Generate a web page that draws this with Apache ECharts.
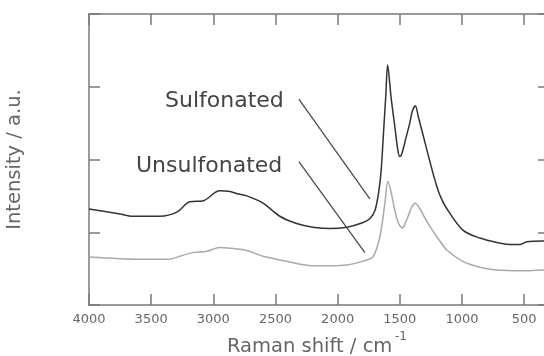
<!DOCTYPE html>
<html>
<head>
<meta charset="utf-8">
<script src="https://cdn.jsdelivr.net/npm/echarts@6/dist/echarts.min.js"></script>
<style>
  html, body { margin: 0; padding: 0; background: #fff; }
  #chart { width: 544px; height: 356px; }
</style>
</head>
<body>
<div id="chart"></div>
<script>
// x tick labels (Raman shift, cm-1)
var xTicks = [4000, 3500, 3000, 2500, 2000, 1500, 1000, 500]

// Sulfonated spectrum [wavenumber, intensity]
var sulfonated = [
  [4000, 1.32], [3750, 1.25], [3650, 1.22], [3430, 1.22], [3290, 1.28],
  [3190, 1.42], [3085, 1.43], [2950, 1.57], [2865, 1.56], [2810, 1.53],
  [2730, 1.50], [2600, 1.40], [2465, 1.22], [2330, 1.12], [2200, 1.07],
  [2060, 1.05], [1925, 1.07], [1800, 1.13], [1740, 1.19], [1700, 1.30],
  [1670, 1.55], [1650, 1.85], [1630, 2.40], [1612, 2.90], [1598, 3.30],
  [1570, 2.85], [1540, 2.45], [1515, 2.12], [1499, 2.04], [1480, 2.10],
  [1450, 2.30], [1420, 2.50], [1400, 2.66], [1375, 2.74], [1350, 2.58],
  [1300, 2.25], [1250, 1.92], [1218, 1.72], [1178, 1.51], [1124, 1.33],
  [993, 1.03], [856, 0.92], [720, 0.86], [590, 0.83], [535, 0.83],
  [478, 0.87], [350, 0.88], [300, 0.88]
]

// Unsulfonated spectrum [wavenumber, intensity]
var unsulfonated = [
  [4000, 0.66], [3590, 0.63], [3350, 0.63], [3270, 0.67], [3165, 0.72],
  [3050, 0.74], [2950, 0.79], [2865, 0.78], [2810, 0.77], [2730, 0.75],
  [2600, 0.67], [2465, 0.62], [2330, 0.57], [2200, 0.54], [2060, 0.54],
  [1925, 0.55], [1800, 0.60], [1717, 0.66], [1660, 0.94], [1620, 1.40],
  [1596, 1.70], [1570, 1.55], [1540, 1.30], [1510, 1.12], [1479, 1.06],
  [1450, 1.15], [1420, 1.28], [1400, 1.36], [1376, 1.40], [1340, 1.33],
  [1300, 1.20], [1258, 1.08], [1178, 0.88], [1124, 0.76], [993, 0.60],
  [856, 0.52], [720, 0.48], [510, 0.47], [350, 0.48], [300, 0.48]
]

// leader lines from the labels to the curves
var sulfLine = [[2312, 2.83], [1741, 1.46]]
var unsulfLine = [[2312, 1.97], [1781, 0.72]]

var frame = '#7a7a7a'
var labelColor = '#666'

var chart = echarts.init(document.getElementById('chart'))

function xAxisOpt (pos, labelColorVal) {
  return {
    type: 'value',
    position: pos,
    inverse: true,
    min: 300,
    max: 4000,
    splitLine: { show: false },
    axisLine: { show: true, onZero: false, lineStyle: { color: frame, width: 1.5 } },
    axisTick: { show: true, inside: true, length: 11, customValues: xTicks, lineStyle: { color: frame, width: 1.5 } },
    axisLabel: {
      show: true, customValues: xTicks, margin: 8,
      color: labelColorVal, fontSize: 13, fontFamily: 'DejaVu Sans',
      formatter: function (v) { return String(v) }
    }
  }
}

function yAxisOpt (pos) {
  return {
    type: 'value',
    position: pos,
    min: 0,
    max: 4,
    interval: 1,
    splitLine: { show: false },
    axisLine: { show: true, onZero: false, lineStyle: { color: frame, width: 1.5 } },
    axisTick: { show: true, inside: true, length: 11, lineStyle: { color: frame, width: 1.5 } },
    axisLabel: { show: false }
  }
}

var yLeft = yAxisOpt('left')
yLeft.name = 'Intensity / a.u.'
yLeft.nameLocation = 'middle'
yLeft.nameGap = 64
yLeft.nameTextStyle = { color: labelColor, fontSize: 19.5, fontFamily: 'DejaVu Sans' }

var option = {
  animation: false,
  backgroundColor: '#fff',
  grid: { left: 89, top: 14, right: -5, bottom: 51, outerBoundsMode: 'none', containLabel: false },
  xAxis: [xAxisOpt('bottom', labelColor), xAxisOpt('top', 'rgba(0,0,0,0)')],
  yAxis: [yLeft, yAxisOpt('right')],
  graphic: [
    {
      type: 'text', left: 165, top: 90,
      style: { text: 'Sulfonated', fill: '#444', font: '22px "DejaVu Sans"' }
    },
    {
      type: 'text', left: 136, top: 155,
      style: { text: 'Unsulfonated', fill: '#444', font: '22px "DejaVu Sans"' }
    },
    {
      type: 'text', left: 227, top: 337,
      style: { text: 'Raman shift / cm', fill: labelColor, font: '19.5px "DejaVu Sans"' }
    },
    {
      type: 'text', left: 395, top: 331,
      style: { text: '-1', fill: labelColor, font: '12px "DejaVu Sans"' }
    }
  ],
  series: [
    {
      name: 'Sulfonated',
      type: 'line',
      data: sulfonated,
      showSymbol: false,
      smooth: 0.3,
      lineStyle: { color: '#333', width: 1.5 },
      markLine: {
        silent: true,
        symbol: 'none',
        label: { show: false },
        lineStyle: { color: '#444', width: 1.2, type: 'solid' },
        data: [
          [{ coord: sulfLine[0] }, { coord: sulfLine[1] }],
          [{ coord: unsulfLine[0] }, { coord: unsulfLine[1] }]
        ]
      }
    },
    {
      name: 'Unsulfonated',
      type: 'line',
      data: unsulfonated,
      showSymbol: false,
      smooth: 0.3,
      lineStyle: { color: '#aaa', width: 1.5 }
    }
  ]
}

chart.setOption(option)
</script>
</body>
</html>
